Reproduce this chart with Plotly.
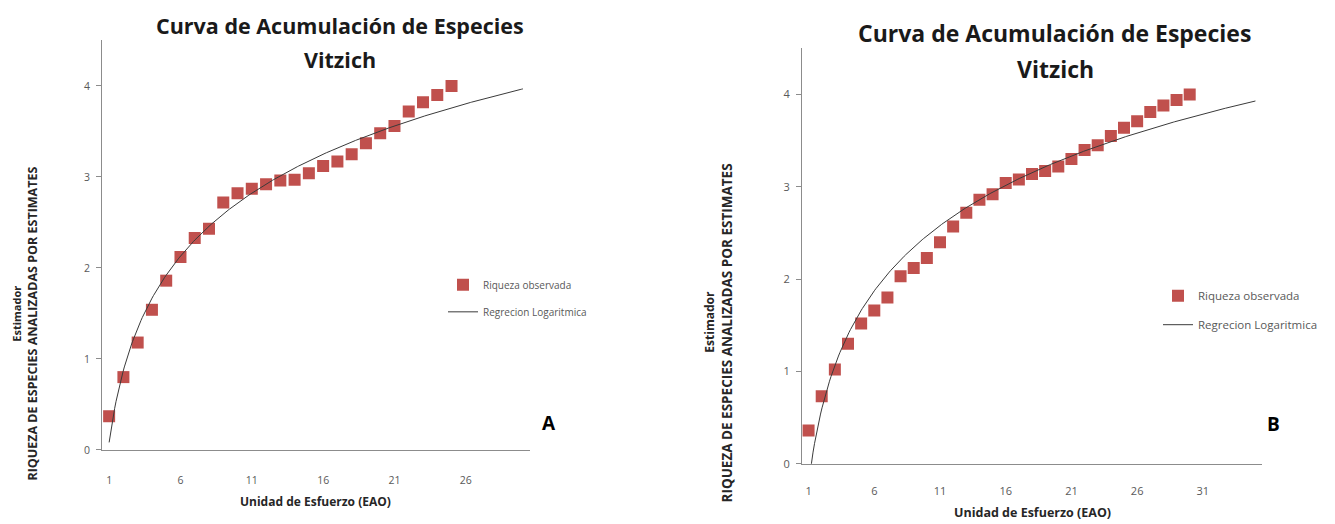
import numpy as np
import plotly.graph_objects as go

# ---------------- data ----------------
unidad_a = list(range(1, 26))
riqueza_a = [0.37, 0.80, 1.18, 1.54, 1.86, 2.12, 2.33, 2.43, 2.72, 2.82,
             2.87, 2.92, 2.96, 2.97, 3.04, 3.12, 3.17, 3.25, 3.37, 3.48,
             3.56, 3.72, 3.82, 3.90, 4.00]

unidad_b = list(range(1, 31))
riqueza_b = [0.36, 0.73, 1.02, 1.30, 1.52, 1.66, 1.80, 2.03, 2.12, 2.23,
             2.40, 2.57, 2.72, 2.86, 2.92, 3.04, 3.08, 3.14, 3.17, 3.22,
             3.30, 3.40, 3.45, 3.55, 3.64, 3.71, 3.81, 3.88, 3.94, 4.00]

ticks_a = [1, 6, 11, 16, 21, 26]
ticks_b = [1, 6, 11, 16, 21, 26, 31]
yticks = [0, 1, 2, 3, 4]
forecast_end_a = 30
forecast_end_b = 35

title_l1 = "Curva de Acumulación de Especies"
title_l2 = "Vitzich"
xtitle = "Unidad de Esfuerzo (EAO)"
ytitle1 = "Estimador"
ytitle2 = "RIQUEZA DE ESPECIES ANALIZADAS POR ESTIMATES"
name_obs = "Riqueza observada"
name_reg = "Regrecion Logaritmica"

# ---------------- logarithmic regression (least squares on ln x) ----------------
def log_fit(x, y, x_end):
    a, b = np.polyfit(np.log(np.array(x, dtype=float)), np.array(y), 1)
    xs = np.linspace(1, x_end, 300)
    return xs, a * np.log(xs) + b

xa_fit, ya_fit = log_fit(unidad_a, riqueza_a, forecast_end_a)
xb_fit, yb_fit = log_fit(unidad_b, riqueza_b, forecast_end_b)

W, H = 1335, 524
RED = "#C0504D"
LINE = "#3a3a3a"
AX = "#8c8c8c"
TXT = "#595959"
FONT = "Open Sans"

fig = go.Figure()

# Panel A
fig.add_trace(go.Scatter(x=unidad_a, y=riqueza_a, mode="markers", name=name_obs,
                         marker=dict(symbol="square", size=12, color=RED),
                         xaxis="x", yaxis="y", legend="legend", legendgroup="a1"))
fig.add_trace(go.Scatter(x=xa_fit, y=ya_fit, mode="lines", name=name_reg,
                         line=dict(color=LINE, width=1),
                         xaxis="x", yaxis="y", legend="legend", legendgroup="a2"))
# Panel B
fig.add_trace(go.Scatter(x=unidad_b, y=riqueza_b, mode="markers", name=name_obs,
                         marker=dict(symbol="square", size=12, color=RED),
                         xaxis="x2", yaxis="y2", legend="legend2", legendgroup="b1"))
fig.add_trace(go.Scatter(x=xb_fit, y=yb_fit, mode="lines", name=name_reg,
                         line=dict(color=LINE, width=1),
                         xaxis="x2", yaxis="y2", legend="legend2", legendgroup="b2"))

def xax(domain, rng, tv, fs, standoff):
    return dict(domain=domain, range=rng, tickvals=tv, showline=True, linecolor=AX,
                linewidth=1, ticks="", showgrid=False, zeroline=False,
                tickfont=dict(family=FONT, size=fs, color=TXT), ticklabelstandoff=standoff)

def yax(domain, anchor, fs):
    return dict(domain=domain, range=[0, 4.5], tickvals=yticks, showline=True,
                linecolor=AX, linewidth=1, ticks="outside", ticklen=5, tickcolor=AX,
                showgrid=False, zeroline=False, anchor=anchor,
                tickfont=dict(family=FONT, size=fs, color=TXT), ticklabelstandoff=4)

fig.update_layout(
    width=W, height=H, margin=dict(l=0, r=0, t=0, b=0),
    paper_bgcolor="white", plot_bgcolor="white",
    xaxis=dict(**xax([102 / W, 530 / W], [0.5, 30.5], ticks_a, 10.5, 20), anchor="y"),
    yaxis=yax([68 / H, 483 / H], "x", 10.5),
    xaxis2=dict(**xax([802 / W, 1262 / W], [0.5, 35.5], ticks_b, 11, 17), anchor="y2"),
    yaxis2=yax([54 / H, 475 / H], "x2", 11),
    legend=dict(x=443 / W, y=1 - 274 / H, xanchor="left", yanchor="top",
                font=dict(family=FONT, size=10, color=TXT), tracegroupgap=8,
                bgcolor="rgba(0,0,0,0)"),
    legend2=dict(x=1158 / W, y=1 - 285 / H, xanchor="left", yanchor="top",
                 font=dict(family=FONT, size=11.5, color=TXT), tracegroupgap=10,
                 bgcolor="rgba(0,0,0,0)"),
)

def ann(x, y, text, size, bold=True, angle=0, color="#1a1a1a"):
    t = f"<b>{text}</b>" if bold else text
    fig.add_annotation(x=x / W, y=1 - y / H, xref="paper", yref="paper", text=t,
                       showarrow=False, textangle=angle, xanchor="center", yanchor="middle",
                       font=dict(family=FONT, size=size, color=color))

# titles
ann(340, 26, title_l1, 21.5)
ann(340, 60, title_l2, 21.5)
ann(1054, 33, title_l1, 23)
ann(1055, 70, title_l2, 23)
# x axis titles
ann(315, 508, xtitle, 12, color="#262626")
ann(1032, 519, xtitle, 12.5, color="#262626")
# y axis titles
ann(17, 318, ytitle1, 11, angle=-90, color="#262626")
ann(33, 328, ytitle2, 12.5, angle=-90, color="#262626")
ann(710, 326, ytitle1, 12, angle=-90, color="#262626")
ann(727, 338, ytitle2, 13.5, angle=-90, color="#262626")
# panel letters
ann(549, 429, "A", 19, color="black")
ann(1273, 430, "B", 19, color="black")

fig.write_html("out.html")
